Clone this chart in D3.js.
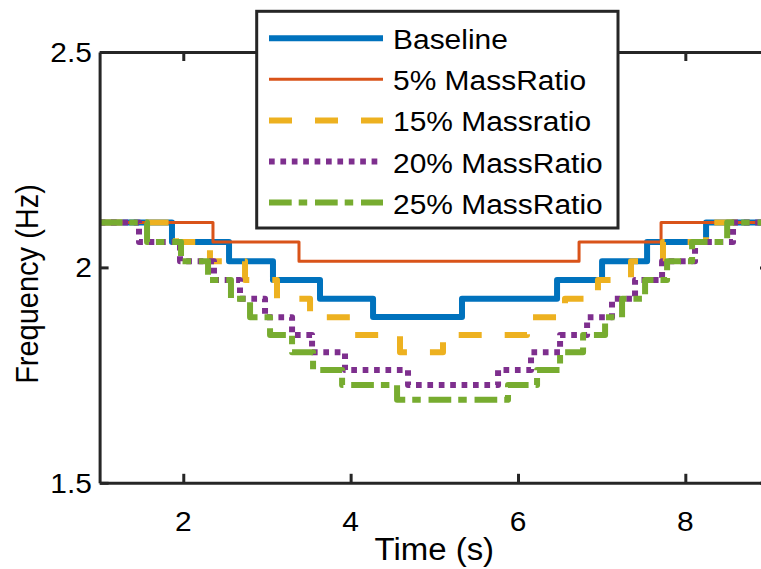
<!DOCTYPE html>
<html>
<head>
<meta charset="utf-8">
<script src="https://cdn.jsdelivr.net/npm/d3@7"></script>
<style>
  html, body { margin: 0; padding: 0; background: #fff; }
  svg { display: block; }
  text { font-family: "Liberation Sans", Arial, Helvetica, sans-serif; fill: #000; }
</style>
</head>
<body>
<svg id="chart" width="761" height="569"></svg>
<script>
// Step change times (s) and frequency levels (Hz) for each case.
const baselineTime = [1, 1.865, 2.547, 3.072, 3.634, 4.268, 5.331, 6.467, 7.005, 7.543, 8.248];
const baselineFreq = [2.104, 2.059, 2.014, 1.971, 1.927, 1.885, 1.927, 1.971, 2.014, 2.059, 2.104];

const mass5Time = [1, 2.355, 3.383, 6.730, 7.710];
const mass5Freq = [2.104, 2.059, 2.014, 2.059, 2.104];

const mass15Time = [1, 1.913, 2.319, 2.738, 3.120, 3.515, 4.005, 4.590, 5.104, 6.108, 6.562, 6.956, 7.351, 7.733, 8.247];
const mass15Freq = [2.104, 2.059, 2.014, 1.971, 1.927, 1.884, 1.843, 1.803, 1.843, 1.884, 1.927, 1.971, 2.014, 2.059, 2.104];

const mass20Time = [1, 1.471, 1.961, 2.367, 2.678, 2.977, 3.300, 3.539, 3.933, 4.686, 5.762, 6.156, 6.503, 6.826, 7.124, 7.399, 7.722, 8.116, 8.570];
const mass20Freq = [2.104, 2.059, 2.014, 1.971, 1.927, 1.884, 1.843, 1.803, 1.762, 1.727, 1.762, 1.803, 1.843, 1.884, 1.927, 1.971, 2.014, 2.059, 2.104];

const mass25Time = [1, 1.567, 1.973, 2.296, 2.570, 2.798, 3.037, 3.300, 3.551, 3.898, 4.555, 5.881, 6.228, 6.503, 6.778, 7.041, 7.244, 7.519, 7.782, 8.081, 8.500];
const mass25Freq = [2.104, 2.059, 2.014, 1.971, 1.927, 1.884, 1.843, 1.803, 1.762, 1.727, 1.693, 1.727, 1.762, 1.803, 1.843, 1.884, 1.927, 1.971, 2.014, 2.059, 2.104];

const seriesNames = ["Baseline", "5% MassRatio", "15% Massratio", "20% MassRatio", "25% MassRatio"];
const xTicks = [2, 4, 6, 8];
const yTicks = [1.5, 2, 2.5];
const xDomain = [1, 9];
const yDomain = [1.5, 2.5];

const seriesStyle = [
  { color: "#0072BD", width: 6, dash: null },
  { color: "#D95319", width: 3, dash: null },
  { color: "#EDB120", width: 6, dash: "23,23" },
  { color: "#7E2F8E", width: 6, dash: "5.7,5.7" },
  { color: "#77AC30", width: 6, dash: "22.7,7,8.5,7.8" }
];

const series = [
  { name: seriesNames[0], time: baselineTime, freq: baselineFreq },
  { name: seriesNames[1], time: mass5Time, freq: mass5Freq },
  { name: seriesNames[2], time: mass15Time, freq: mass15Freq },
  { name: seriesNames[3], time: mass20Time, freq: mass20Freq },
  { name: seriesNames[4], time: mass25Time, freq: mass25Freq }
];

const svg = d3.select("#chart");
const axisColor = "#262626";
const stretch = 1.07;   // slightly wide glyphs, as in the exported figure
const tickFont = 28;
const labelFont = 30.8;

const x = d3.scaleLinear().domain(xDomain).range([99.6, 769]);
const y = d3.scaleLinear().domain(yDomain).range([482.8, 52]);

const plot = svg.append("g");

// Step lines
const line = d3.line()
  .x(d => x(d[0]))
  .y(d => y(d[1]))
  .curve(d3.curveStepAfter);

series.forEach((s, i) => {
  const pts = s.time.map((t, k) => [t, s.freq[k]]);
  pts.push([xDomain[1], s.freq[s.freq.length - 1]]);
  const st = seriesStyle[i];
  plot.append("path")
    .datum(pts)
    .attr("d", line)
    .attr("fill", "none")
    .attr("stroke", st.color)
    .attr("stroke-width", st.width)
    .attr("stroke-linejoin", "round")
    .attr("stroke-linecap", "butt")
    .attr("stroke-dasharray", st.dash);
});

// Axes box with inward ticks
const axes = svg.append("g");
const mk = (axisFn, scale, ticks) => axisFn(scale).tickValues(ticks).tickSizeInner(-9).tickSizeOuter(0).tickFormat("");

const gb = axes.append("g").attr("transform", `translate(0,${y(yDomain[0])})`).call(mk(d3.axisBottom, x, xTicks));
const gt = axes.append("g").attr("transform", `translate(0,${y(yDomain[1])})`).call(mk(d3.axisTop, x, xTicks));
const gl = axes.append("g").attr("transform", `translate(${x(xDomain[0])},0)`).call(mk(d3.axisLeft, y, yTicks));
const gr = axes.append("g").attr("transform", `translate(${x(xDomain[1])},0)`).call(mk(d3.axisRight, y, yTicks));

[gb, gt, gl, gr].forEach(g => {
  g.select(".domain").attr("stroke", axisColor).attr("stroke-width", 3);
  g.selectAll(".tick line").attr("stroke", axisColor).attr("stroke-width", 3);
});

// Tick labels
const fmt = d3.format("~g");
xTicks.forEach(v => {
  svg.append("text")
    .attr("transform", `translate(${x(v)},531) scale(${stretch},1)`)
    .attr("text-anchor", "middle")
    .attr("font-size", tickFont)
    .text(fmt(v));
});
yTicks.forEach(v => {
  svg.append("text")
    .attr("transform", `translate(92,${y(v) + 10}) scale(${stretch},1)`)
    .attr("text-anchor", "end")
    .attr("font-size", tickFont)
    .text(fmt(v));
});

// Axis labels
svg.append("text")
  .attr("transform", `translate(${(x(xDomain[0]) + x(xDomain[1])) / 2},560) scale(${stretch},1)`)
  .attr("text-anchor", "middle")
  .attr("font-size", labelFont)
  .text("Time (s)");

svg.append("text")
  .attr("transform", `translate(38,284) scale(${stretch},1) rotate(-90)`)
  .attr("text-anchor", "middle")
  .attr("font-size", 29)
  .text("Frequency (Hz)");

// Legend
const legend = svg.append("g");
legend.append("rect")
  .attr("x", 256.7).attr("y", 11.3)
  .attr("width", 361.3).attr("height", 216.7)
  .attr("fill", "#fff")
  .attr("stroke", axisColor)
  .attr("stroke-width", 3);

const rowY = d3.scaleLinear().domain([0, 4]).range([38.2, 202.6]);
series.forEach((s, i) => {
  const st = seriesStyle[i];
  const yy = rowY(i);
  legend.append("line")
    .attr("x1", 269).attr("x2", 383)
    .attr("y1", yy).attr("y2", yy)
    .attr("stroke", st.color)
    .attr("stroke-width", st.width)
    .attr("stroke-linecap", "butt")
    .attr("stroke-dasharray", st.dash);
  legend.append("text")
    .attr("transform", `translate(393,${yy + 11}) scale(${stretch},1)`)
    .attr("font-size", 28)
    .text(s.name);
});
</script>
</body>
</html>
